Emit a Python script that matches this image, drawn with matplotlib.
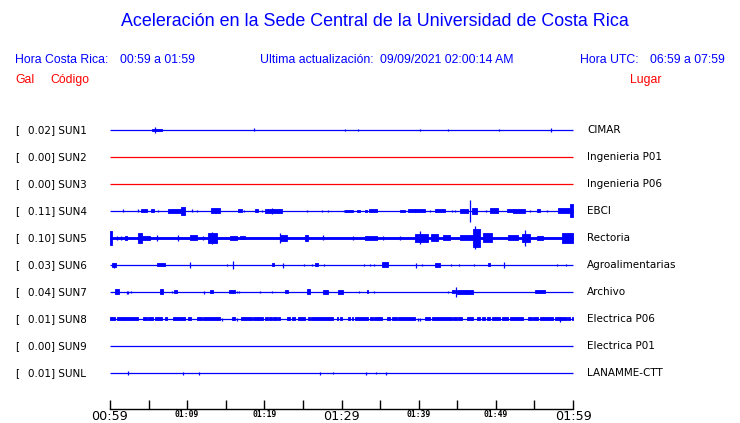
import matplotlib
matplotlib.use('Agg')
import matplotlib.pyplot as plt
from matplotlib.transforms import blended_transform_factory

# ---------------- data ----------------
codes = ['SUN1', 'SUN2', 'SUN3', 'SUN4', 'SUN5', 'SUN6', 'SUN7', 'SUN8', 'SUN9', 'SUNL']
peaks = ['0.02', '0.00', '0.00', '0.11', '0.10', '0.03', '0.04', '0.01', '0.00', '0.01']
places = ['CIMAR', 'Ingenieria P01', 'Ingenieria P06', 'EBCI', 'Rectoria',
          'Agroalimentarias', 'Archivo', 'Electrica P06', 'Electrica P01', 'LANAMME-CTT']
trace_colors = ['#0000ff', '#ff0000', '#ff0000', '#0000ff', '#0000ff',
                '#0000ff', '#0000ff', '#0000ff', '#0000ff', '#0000ff']

tick_minutes = [0, 5, 10, 15, 20, 25, 30, 35, 40, 45, 50, 55, 60]
tick_labels = ['00:59', '', '01:09', '', '01:19', '', '01:29', '', '01:39', '', '01:49', '', '01:59']
big_ticks = ['00:59', '01:29', '01:59']

# events per trace: (start minute, end minute, half-deflection in px at 27 px row spacing)
sun1_events = [(5.40, 6.70, 1.0), (5.83, 5.83, 2.7), (18.66, 18.66, 1.5), (30.45, 30.45, 1.0),
               (32.14, 32.14, 1.0), (40.17, 40.17, 1.0), (43.80, 43.80, 1.0), (50.41, 50.41, 1.0),
               (57.15, 57.15, 2.0)]
sun2_events = []
sun3_events = []
sun4_events = [(1.72, 1.72, 1.5), (3.67, 3.67, 1.5), (3.98, 4.76, 1.5), (5.27, 5.70, 1.5),
               (6.26, 6.26, 1.2), (7.52, 9.29, 2.0), (9.20, 9.72, 4.0), (10.67, 10.67, 1.5),
               (11.24, 11.24, 1.0), (13.09, 14.26, 2.5), (16.63, 17.05, 1.5), (17.40, 17.40, 1.0),
               (18.79, 19.22, 1.5), (19.66, 19.66, 1.0), (20.09, 22.25, 2.0), (21.0, 21.0, 2.8),
               (25.49, 25.49, 1.0), (27.43, 27.43, 1.0), (28.29, 28.29, 1.0), (30.36, 30.36, 1.0),
               (30.45, 31.53, 1.0), (31.97, 32.40, 1.0), (33.05, 33.26, 1.0), (33.60, 34.55, 1.5),
               (37.58, 38.23, 1.2), (38.66, 39.53, 1.5), (39.53, 40.82, 1.5), (41.47, 41.47, 1.0),
               (42.12, 43.41, 1.5), (44.28, 44.28, 1.0), (44.71, 44.71, 1.0), (45.36, 46.43, 2.0),
               (46.65, 46.65, 11.0), (46.87, 47.51, 3.0), (48.69, 48.69, 1.0), (49.25, 50.32, 2.5),
               (51.41, 52.25, 1.5), (52.25, 53.78, 2.0), (54.43, 54.43, 1.0), (55.30, 55.72, 1.5),
               (56.59, 56.59, 1.0), (58.10, 59.61, 2.5), (59.61, 60.0, 6.5)]
sun5_events = [(0.0, 60.0, 1.3), (0.0, 0.22, 7.0), (0.87, 0.87, 2.0), (1.43, 1.43, 2.0),
               (1.94, 2.15, 2.0), (3.67, 4.10, 5.0), (4.10, 5.18, 2.0), (6.05, 6.05, 3.0),
               (8.85, 8.85, 3.0), (10.37, 11.24, 2.5), (12.09, 12.09, 2.0), (12.74, 13.82, 5.0),
               (13.22, 13.22, 6.0), (15.55, 16.42, 2.0), (16.85, 17.49, 1.5), (22.03, 22.03, 5.0),
               (22.03, 22.90, 3.0), (25.27, 25.70, 3.0), (27.60, 27.60, 2.5), (31.53, 31.53, 2.0),
               (33.05, 34.55, 2.0), (35.42, 35.42, 2.0), (37.58, 37.58, 2.0), (39.53, 41.25, 4.0),
               (40.17, 40.17, 6.5), (41.66, 42.53, 3.5), (43.19, 44.06, 2.5), (45.36, 47.08, 2.5),
               (47.08, 47.95, 9.0), (47.30, 47.30, 11.5), (48.37, 49.45, 4.5), (51.62, 52.91, 2.5),
               (53.35, 54.43, 4.0), (53.78, 53.78, 8.0), (55.30, 56.14, 2.0), (58.54, 60.0, 5.0)]
sun6_events = [(0.30, 0.74, 2.0), (0.52, 0.52, 2.5), (6.05, 7.13, 1.5), (10.37, 10.37, 3.0),
               (15.12, 15.12, 1.5), (15.98, 15.98, 3.5), (20.95, 21.25, 1.5), (22.37, 22.37, 2.5),
               (25.14, 25.14, 1.0), (26.14, 26.14, 1.0), (26.57, 26.92, 1.5), (27.77, 27.77, 1.5),
               (32.95, 32.95, 1.5), (33.69, 33.69, 1.5), (34.25, 34.25, 1.5), (35.21, 36.07, 2.5),
               (39.66, 39.66, 2.5), (40.47, 40.47, 1.5), (42.12, 42.76, 2.0), (44.19, 44.19, 1.5),
               (45.23, 45.23, 1.0), (47.21, 47.21, 1.5), (48.94, 49.24, 1.5), (51.06, 51.06, 3.0),
               (57.89, 57.89, 1.0), (59.05, 59.05, 1.0)]
sun7_events = [(0.65, 1.17, 2.5), (2.15, 2.15, 1.5), (2.37, 2.37, 1.5), (2.72, 2.72, 1.0),
               (6.48, 6.91, 2.5), (8.00, 8.00, 1.0), (8.29, 8.63, 1.5), (12.22, 12.22, 1.5),
               (12.96, 13.35, 1.5), (15.42, 16.20, 1.5), (16.48, 16.48, 1.0), (16.76, 16.76, 1.0),
               (19.44, 19.44, 1.0), (21.03, 21.03, 1.0), (22.68, 23.11, 1.5), (25.49, 25.92, 2.5),
               (27.64, 28.20, 2.0), (29.59, 30.24, 2.0), (32.27, 32.27, 1.0), (33.26, 33.47, 1.5),
               (34.25, 34.25, 1.0), (43.83, 43.83, 1.0), (44.27, 44.71, 1.5), (44.84, 44.84, 4.5),
               (44.93, 46.23, 2.0), (46.23, 46.99, 2.0), (55.08, 56.37, 1.5)]
sun8_events = [(0.0, 0.65, 1.5), (0.87, 1.72, 1.5), (1.72, 3.67, 1.5), (4.32, 4.74, 1.5),
               (4.96, 5.61, 1.5), (5.83, 6.70, 1.5), (7.13, 7.35, 1.5), (8.20, 9.72, 1.5),
               (10.15, 10.50, 1.5), (11.24, 11.88, 1.5), (12.09, 14.26, 1.5), (14.47, 14.47, 1.5),
               (15.76, 16.20, 1.5), (16.41, 16.41, 1.5), (16.98, 18.35, 1.5), (18.57, 19.13, 1.5),
               (19.22, 19.87, 1.5), (20.09, 20.51, 1.5), (20.64, 20.95, 1.5), (21.16, 21.59, 1.5),
               (21.81, 22.03, 1.5), (22.90, 23.33, 1.5), (23.55, 23.97, 1.5), (24.31, 25.27, 1.5),
               (25.70, 25.92, 1.5), (26.05, 28.94, 1.5), (29.37, 29.57, 1.5), (29.81, 30.10, 1.5),
               (30.88, 31.10, 1.5), (31.31, 31.52, 1.5), (31.75, 33.47, 1.5), (33.69, 34.12, 1.5),
               (34.25, 35.21, 1.5), (35.85, 36.28, 1.5), (36.50, 37.15, 1.5), (37.35, 39.53, 1.5),
               (39.96, 39.96, 1.5), (40.17, 40.17, 1.5), (40.82, 41.47, 1.5), (41.69, 44.28, 1.5),
               (44.49, 44.93, 1.5), (45.14, 45.58, 1.5), (46.23, 47.08, 1.5), (47.51, 47.95, 1.5),
               (48.17, 48.60, 1.5), (48.82, 49.25, 1.5), (49.46, 50.54, 1.5), (50.76, 51.62, 1.5),
               (51.84, 53.56, 1.5), (54.21, 54.64, 1.5), (54.86, 55.51, 1.5), (55.72, 57.45, 1.5),
               (57.67, 59.18, 1.5), (58.32, 58.32, 2.5), (59.39, 59.61, 1.5), (59.83, 60.0, 1.5)]
sun9_events = []
sunl_events = [(2.37, 2.37, 2.0), (9.50, 9.50, 1.5), (11.57, 11.57, 1.5), (27.21, 27.21, 1.5),
               (28.90, 28.90, 1.0), (33.17, 33.17, 1.5), (34.47, 34.47, 1.0), (35.77, 35.77, 1.5)]

all_events = [sun1_events, sun2_events, sun3_events, sun4_events, sun5_events,
              sun6_events, sun7_events, sun8_events, sun9_events, sunl_events]

# ---------------- figure ----------------
W, H = 740, 423
fig = plt.figure(figsize=(W / 100, H / 100), dpi=100)

ROW_PX = 27.0
top_px, bot_px = 103, 409
ax = fig.add_axes([110 / W, (H - bot_px) / H, 463 / W, (bot_px - top_px) / H])
ax.set_xlim(0, 60)
ax.set_ylim((bot_px - 130) / ROW_PX, (top_px - 130) / ROW_PX)

for s in ['top', 'left', 'right']:
    ax.spines[s].set_visible(False)
ax.spines['bottom'].set_linewidth(1.0)
ax.set_yticks([])
ax.set_xticks(tick_minutes)
ax.set_xticklabels(tick_labels)
ax.tick_params(axis='x', direction='in', length=6.5, width=1.0, pad=1, color='black')
for lbl in ax.get_xticklabels():
    if lbl.get_text() in big_ticks:
        lbl.set_fontsize(9.2)
        lbl.set_family('DejaVu Sans')
    else:
        lbl.set_fontsize(5.8)
        lbl.set_family('DejaVu Sans Mono')
        lbl.set_fontweight('bold')

LW = 0.9
for i, (evs, c) in enumerate(zip(all_events, trace_colors)):
    ax.hlines(i, 0, 60, color=c, lw=LW, clip_on=False)
    for t0, t1, a in evs:
        d = a / ROW_PX
        if t1 > t0:
            ax.fill_between([t0, t1], [i - d, i - d], [i + d, i + d], color=c,
                            lw=0.6, edgecolor=c, clip_on=False)
        else:
            ax.vlines(t0, i - d, i + d, color=c, lw=0.9, clip_on=False)

tr = blended_transform_factory(fig.transFigure, ax.transData)
for i in range(len(codes)):
    ax.text(15 / W, i, '[', transform=tr, ha='left', va='center', fontsize=7.5,
            family='DejaVu Sans', color='black')
    ax.text(28 / W, i, peaks[i] + '] ' + codes[i], transform=tr, ha='left', va='center',
            fontsize=7.5, family='DejaVu Sans', color='black')
    ax.text(587 / W, i, places[i], transform=tr, ha='left', va='center', fontsize=7.5,
            family='DejaVu Sans', color='black')

# header texts
def ftxt(px, py, s, color, size, ha='left'):
    fig.text(px / W, 1 - py / H, s, color=color, fontsize=size, ha=ha, va='center',
             family='Liberation Sans')

ftxt(375, 22, 'Aceleración en la Sede Central de la Universidad de Costa Rica', '#0000ff', 12.9, ha='center')
ftxt(15, 60, 'Hora Costa Rica:', '#0000ff', 8.8)
ftxt(120.5, 60, '00:59 a 01:59', '#0000ff', 8.8)
ftxt(260, 60, 'Ultima actualización:', '#0000ff', 8.8)
ftxt(380, 60, '09/09/2021 02:00:14 AM', '#0000ff', 8.8)
ftxt(580.5, 60, 'Hora UTC:', '#0000ff', 8.8)
ftxt(650.5, 60, '06:59 a 07:59', '#0000ff', 8.8)
ftxt(15, 80, 'Gal', '#ff0000', 8.8)
ftxt(50, 80, 'Código', '#ff0000', 8.8)
ftxt(630, 80, 'Lugar', '#ff0000', 8.8)

fig.savefig('out.png', dpi=100)
